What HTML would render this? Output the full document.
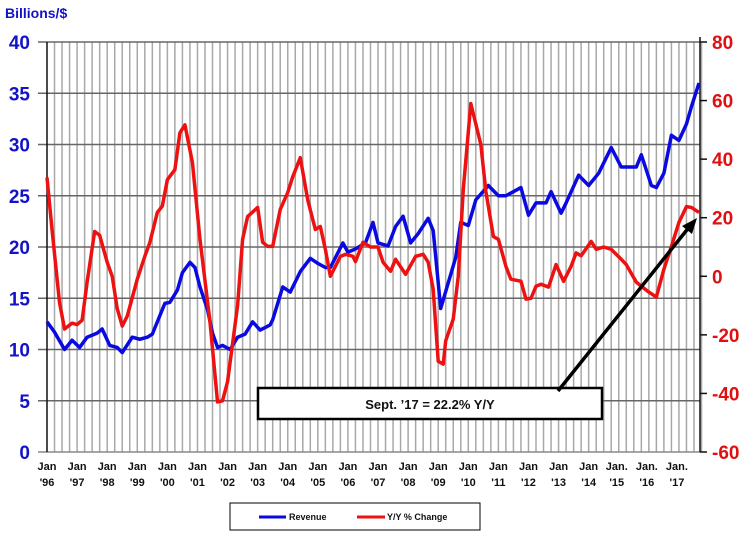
<!DOCTYPE html>
<html><head><meta charset="utf-8"><style>
body{margin:0;background:#fff;width:755px;height:542px;overflow:hidden;font-family:"Liberation Sans",sans-serif}
svg text{font-family:"Liberation Sans",sans-serif;font-weight:bold}
</style></head><body>
<svg id="c" width="755" height="542"></svg>
<script>
const revMonths=[0,3,7,10,13,16,20,22,25,28,30,34,37,40,42,47,49,52,54,57,59,61,64,66,68,70,73,76,79,82,85,89,90,94,97,101,105,108,111,113,118,120,123,127,130,132,136,139,142,145,148,152,154,157,160,163,165,168,171,176,180,183,189,192,195,199,201,205,207,212,216,220,225,229,233,235,237,241,243,246,249,252,255,257,260];
const revValues=[12.7,11.7,10,10.9,10.2,11.2,11.6,12,10.4,10.2,9.7,11.2,11,11.2,11.5,14.5,14.6,15.8,17.5,18.5,18,16.1,13.9,11.6,10.2,10.4,10,11.2,11.5,12.7,11.9,12.4,12.9,16.1,15.6,17.6,18.9,18.4,18,18,20.4,19.5,19.8,20.4,22.4,20.4,20.1,22,23,20.4,21.3,22.8,21.6,14,16.5,19,22.4,22.1,24.6,26,25,25,25.8,23.1,24.3,24.3,25.4,23.3,24.3,27,26,27.2,29.7,27.8,27.8,27.8,29,26,25.8,27.2,30.9,30.4,32,33.7,36];
const yoyMonths=[0,2,5,7,10,12,14,16,19,21,24,26,28,30,32,36,39,41,44,46,48,51,53,55,58,61,65,68,70,72,76,78,80,84,86,88,90,93,96,98,101,104,107,109,111,113,117,119,122,123,126,129,132,134,137,139,143,147,150,152,154,156,158,159,162,164,166,169,171,173,175,178,180,183,185,189,191,193,195,197,200,203,206,209,211,213,217,219,222,225,229,231,235,237,240,243,246,249,252,255,257,260];
const yoyValues=[33.7,16,-9,-18,-16,-16.5,-15,-2,15.3,14,4.8,0,-11,-17,-13.6,-1,6.8,11.5,21.8,24,33,36.4,49,51.7,38.8,12.6,-15.6,-42.9,-42.5,-36,-10,12.6,20.4,23.5,11.6,10.2,10.2,22.8,28.6,34,40.5,26,16,17,9.2,0,6.8,7.5,6.8,5,11.6,10,10,4.8,1.7,5.8,0.7,6.8,7.5,4.8,-4.4,-29,-30,-22,-14.6,0,29.6,59,52,45,29,13.6,12.6,3.4,-1,-1.7,-7.8,-7.5,-3.4,-2.7,-3.7,4,-1.7,3.4,8,7,11.9,9.2,10,9.2,5.8,4,-2,-3.4,-5.4,-7.1,2.4,10.2,18.4,23.8,23.5,21.8];
const leftTicks=[0,5,10,15,20,25,30,35,40];
const rightTicks=[-60,-40,-20,0,20,40,60,80];
const xTop=["Jan","Jan","Jan","Jan","Jan","Jan","Jan","Jan","Jan","Jan","Jan","Jan","Jan","Jan","Jan","Jan","Jan","Jan","Jan","Jan.","Jan.","Jan."];
const xBot=["'96","'97","'98","'99","'00","'01","'02","'03","'04","'05","'06","'07","'08","'09","'10","'11","'12","'13","'14","'15","'16","'17"];

const L=47,R=700,T=42,B=452;
const xs=m=>L+m*(699-L)/260;
const yl=v=>B-(v/40)*(B-T);
const yr=v=>B-((v+60)/140)*(B-T);
const NS="http://www.w3.org/2000/svg";
const svg=document.getElementById('c');
function mk(tag,attrs,txt){const e=document.createElementNS(NS,tag);for(const k in attrs)e.setAttribute(k,attrs[k]);if(txt!==undefined)e.textContent=txt;svg.appendChild(e);return e;}

// vertical grid (quarterly)
for(let m=3;m<262;m+=3){
  const g=mk('line',{x1:xs(m),x2:xs(m),y1:T,y2:B,stroke:'#a8a8a8','stroke-width':1.5});
  
  
}
// horizontal grid
leftTicks.forEach(v=>{
  const g=mk('line',{x1:38,x2:R,y1:yl(v),y2:yl(v),stroke:v===0?'#888':'#666','stroke-width':1.5});
  
  
  const t=mk('text',{x:30,y:yl(v)+7,'text-anchor':'end','font-size':19,fill:'#1212c8'},String(v));
  
  
});
const ax=mk('line',{x1:L,x2:L,y1:T,y2:B,stroke:'#111','stroke-width':1.5});


const ax2=mk('line',{x1:R,x2:R,y1:T-5,y2:B,stroke:'#111','stroke-width':1.5});


rightTicks.forEach(v=>{
  const tk=mk('line',{x1:R,x2:R+7,y1:yr(v),y2:yr(v),stroke:'#111','stroke-width':1.5});
  
  
  const t=mk('text',{x:712,y:yr(v)+7,'font-size':19,fill:'#e01010'},String(v));
  
  
});
xTop.forEach((s,i)=>{
  const x=xs(i*12)+(i>=19?-2:0);
  const a=mk('text',{x:x,y:470,'text-anchor':'middle','font-size':11,fill:'#111'},s);
  
  
  const b=mk('text',{x:x,y:486,'text-anchor':'middle','font-size':11,fill:'#111'},xBot[i]);
  
  
});
const title=mk('text',{x:5,y:18,'font-size':14,fill:'#1212c8'},'Billions/$');



// series
const rp=mk('polyline',{points:revMonths.map((m,i)=>xs(m)+','+yl(revValues[i])).join(' '),fill:'none',stroke:'#0a0ae0','stroke-width':3.5,'stroke-linejoin':'round'});


const yp=mk('polyline',{points:yoyMonths.map((m,i)=>xs(m)+','+yr(yoyValues[i])).join(' '),fill:'none',stroke:'#ee1111','stroke-width':3.5,'stroke-linejoin':'round'});



// annotation
const box=mk('rect',{x:258,y:388,width:344,height:31,fill:'#fff',stroke:'#000','stroke-width':2.5});


const at=mk('text',{x:430,y:409,'text-anchor':'middle','font-size':13,fill:'#111'},"Sept. \u201917 = 22.2% Y/Y");


const ar=mk('line',{x1:558,y1:391,x2:690,y2:226,stroke:'#000','stroke-width':3.5});


const ah=mk('polygon',{points:'697,218 682,226 692,234',fill:'#000'});



// legend
const lg=mk('rect',{x:230,y:503,width:250,height:27,fill:'#fff',stroke:'#000','stroke-width':1});


const l1=mk('line',{x1:259,x2:286,y1:517,y2:517,stroke:'#0a0ae0','stroke-width':3});


const t1=mk('text',{x:289,y:520,'font-size':9,fill:'#111'},'Revenue');


const l2=mk('line',{x1:357,x2:385,y1:517,y2:517,stroke:'#ee1111','stroke-width':3});


const t2=mk('text',{x:387,y:520,'font-size':9,fill:'#111'},'Y/Y % Change');


</script>
</body></html>
